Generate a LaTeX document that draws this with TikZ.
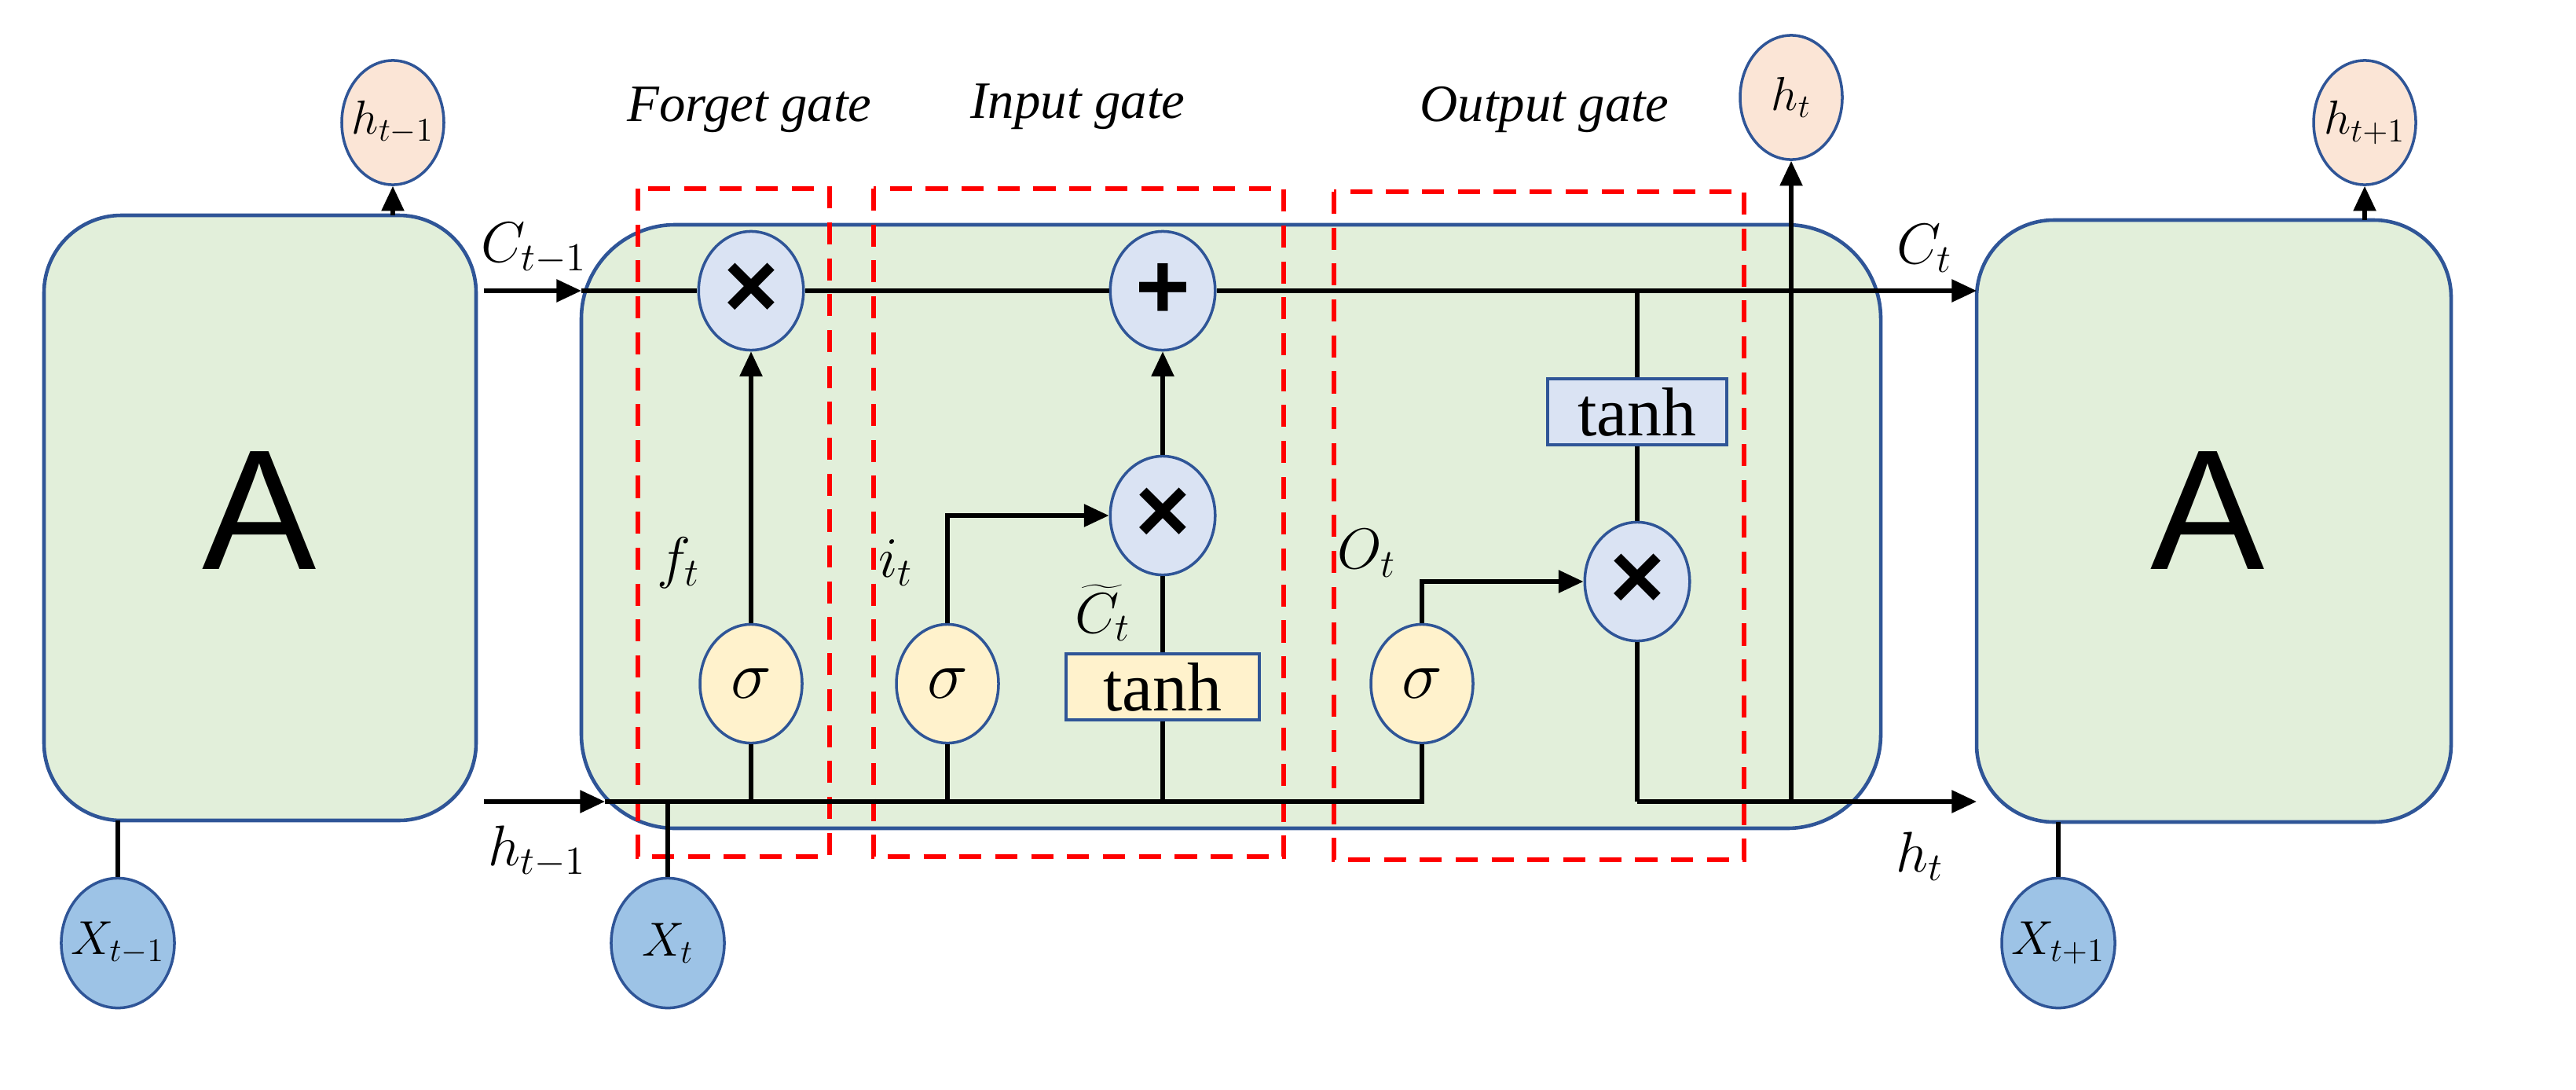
\documentclass[tikz,border=0pt]{standalone}
\usepackage{fontspec}
\setmainfont{Liberation Serif}
\newfontfamily\sansA{Liberation Sans}
\usetikzlibrary{arrows.meta,shapes.geometric}
\definecolor{cellgreen}{HTML}{E2EFDA}
\definecolor{cellblue}{HTML}{2F5597}
\definecolor{opblue}{HTML}{DAE3F3}
\definecolor{sigyellow}{HTML}{FFF2CC}
\definecolor{outpeach}{HTML}{FBE5D6}
\definecolor{inblue}{HTML}{9DC3E6}
\tikzset{
  cell/.style={draw=cellblue, line width=1.3pt, fill=cellgreen, rounded corners=28pt},
  op/.style={ellipse, draw=cellblue, line width=1pt, fill=opblue, minimum width=38pt, minimum height=43pt, inner sep=0pt, font=\sansA\fontsize{34}{34}\selectfont\bfseries},
  sig/.style={ellipse, draw=cellblue, line width=1pt, fill=sigyellow, minimum width=37pt, minimum height=43pt, inner sep=0pt, font=\fontsize{26}{26}\selectfont},
  act/.style={rectangle, draw=cellblue, line width=1pt, minimum width=70pt, minimum height=24pt, inner sep=0pt, font=\fontsize{25}{25}\selectfont},
  outv/.style={ellipse, draw=cellblue, line width=1pt, fill=outpeach, minimum width=37pt, minimum height=45pt, inner sep=-3pt, font=\fontsize{18}{18}\selectfont},
  inv/.style={ellipse, draw=cellblue, line width=1pt, fill=inblue, minimum width=41pt, minimum height=47pt, inner sep=-3pt, font=\fontsize{18}{18}\selectfont},
  gate/.style={draw=red, line width=1.6pt, dash pattern=on 8pt off 5pt},
  lbl/.style={font=\fontsize{22}{22}\selectfont},
  title/.style={font=\fontsize{19}{19}\selectfont\itshape},
  flow/.style={line width=1.5pt, -{Triangle[length=9pt,width=8pt]}},
  wire/.style={line width=1.5pt}
}
\begin{document}
\begin{tikzpicture}[x=0.02cm, y=-0.02cm]
  \useasboundingbox (0,0) rectangle (1639.5,693);
  % cells
  \draw [cell] (28,137) rectangle (303,522);
  \draw [cell, rounded corners=34pt] (370,143) rectangle (1197,527);
  \draw [cell] (1258,140) rectangle (1560,523);
  \node [font=\sansA\fontsize{62}{62}\selectfont] (aL) at (165,325) {A};
  \node [font=\sansA\fontsize{62}{62}\selectfont] (aR) at (1405,325) {A};

  % gate frames
  \draw [gate] (406,120) rectangle (528,545);
  \draw [gate] (556,120) rectangle (817,545);
  \draw [gate] (849,122) rectangle (1110,547);
  \node [title] (tf) at (477,70) {Forget gate};
  \node [title] (ti) at (686,68) {Input gate};
  \node [title] (to) at (983,70) {Output gate};

  % outputs and inputs
  \node [outv] (hprev) at (250,78) {$h_{t-1}$};
  \node [outv] (hcur) at (1140,62) {$h_t$};
  \node [outv] (hnext) at (1505,78) {$h_{t+1}$};
  \node [inv] (xprev) at (75,600) {$X_{t-1}$};
  \node [inv] (xcur) at (425,600) {$X_t$};
  \node [inv] (xnext) at (1310,600) {$X_{t+1}$};

  % operators
  \node [op] (mulf) at (478,185) {×};
  \node [op] (add) at (740,185) {+};
  \node [op] (muli) at (740,328) {×};
  \node [op] (mulo) at (1042,370) {×};
  \node [sig] (sigf) at (478,435) {$\sigma$};
  \node [sig] (sigi) at (603,435) {$\sigma$};
  \node [sig] (sigo) at (905,435) {$\sigma$};
  \node [act, fill=sigyellow] (tanhc) at (740,437) {tanh};
  \node [act, fill=opblue, minimum width=65pt] (tanho) at (1042,262) {tanh};

  % fixed points
  \coordinate (cin) at (308,185);
  \coordinate (cl) at (370,185);
  \coordinate (cout) at (1258,185);
  \coordinate (hin) at (308,510);
  \coordinate (hl) at (385,510);
  \coordinate (hr) at (905,510);
  \coordinate (hout) at (1258,510);
  \coordinate (ho) at (1042,510);

  % cell state
  \draw [flow] (cin) -- (cl);
  \draw [wire] (cl) -- (mulf) -- (add) -- (1042,185);
  \draw [flow] (add) -- (cout);
  \node [lbl] (lc1) at (340,158) {$C_{t-1}$};
  \node [lbl] (lc2) at (1225,158) {$C_t$};

  % hidden state
  \draw [flow] (hin) -- (hl);
  \draw [wire] (hl) -- (hr) -- (sigo);
  \node [lbl] (lh1) at (342,542) {$h_{t-1}$};
  \node [lbl] (lh2) at (1222,545) {$h_t$};

  % forget gate
  \draw [wire] (sigf.south |- hl) -- (sigf);
  \draw [flow] (sigf) -- (mulf);
  \node [lbl] (lf) at (432,358) {$f_t$};

  % input gate
  \draw [wire] (sigi.south |- hl) -- (sigi);
  \draw [flow] (sigi.north) |- (muli.west);
  \draw [wire] (tanhc.south |- hl) -- (tanhc);
  \draw [wire] (tanhc) -- (muli);
  \draw [flow] (muli) -- (add);
  \node [lbl] (li) at (570,358) {$i_t$};
  \node [lbl, font=\fontsize{20}{20}\selectfont] (lct) at (702,390) {$\widetilde{C}_t$};

  % output gate
  \draw [flow] (sigo.north) |- (mulo.west);
  \draw [wire] (1042,185) -- (tanho) -- (mulo);
  \draw [wire] (mulo) -- (ho);
  \draw [flow] (ho) -- (hout);
  \node [lbl] (lo) at (870,352) {$O_t$};

  % links to neighbours
  \draw [flow] (250,137) -- (hprev);
  \draw [flow] (1505,140) -- (hnext);
  \draw [flow] (1140,510) -- (hcur);
  \draw [wire] (75,522) -- (xprev);
  \draw [wire] (425,510) -- (xcur);
  \draw [wire] (1310,523) -- (xnext);
\end{tikzpicture}
\end{document}
